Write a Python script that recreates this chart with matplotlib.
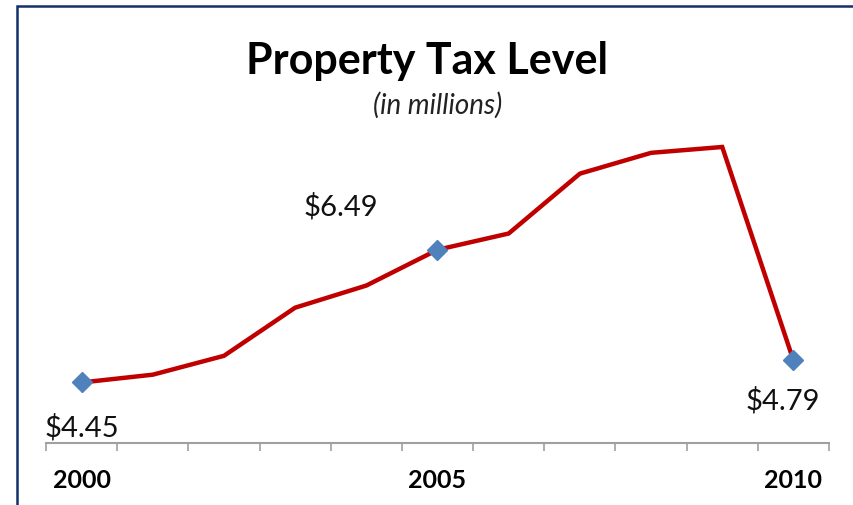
import matplotlib
matplotlib.use("Agg")
import matplotlib.pyplot as plt
from matplotlib.patches import Rectangle

# Data (millions of dollars)
years = [2000, 2001, 2002, 2003, 2004, 2005, 2006, 2007, 2008, 2009, 2010]
tax_level = [4.45, 4.57, 4.86, 5.60, 5.94, 6.49, 6.74, 7.66, 7.98, 8.07, 4.79]
labeled_idx = [0, 5, 10]
label_text = ["$4.45", "$6.49", "$4.79"]
tick_years = ["2000", "2005", "2010"]

plt.rcParams['font.family'] = ['Lato', 'DejaVu Sans']

fig = plt.figure(figsize=(8.54, 5.06), dpi=100)
W, H = 854, 506

# dark blue frame (right/bottom edges are cut off in the original)
fig.patches.append(Rectangle((17 / W, -0.1), 1.2, 1 - 7 / H + 0.1,
                             transform=fig.transFigure, fill=False,
                             edgecolor="#12306A", linewidth=1.8))

ax = fig.add_axes([46 / W, 1 - 444 / H, 783 / W, 325.3 / H])
x = list(range(len(years)))
ax.plot(x, tax_level, color="#C00000", linewidth=3.2, solid_joinstyle="miter",
        marker="D", markersize=10.5, markevery=labeled_idx,
        markerfacecolor="#4F81BD", markeredgecolor="#4F81BD", zorder=3)

ax.set_xlim(-0.5, len(years) - 0.5)
ax.set_ylim(3.52, 8.52)

for s in ["top", "right", "left"]:
    ax.spines[s].set_visible(False)
ax.spines["bottom"].set_color("#A0A0A0")
ax.spines["bottom"].set_linewidth(1.5)
ax.set_yticks([])

# category boundaries as tick marks, labels only on every fifth year
ax.set_xticks([i - 0.5 for i in range(len(years) + 1)], minor=True)
ax.tick_params(axis="x", which="minor", length=6, width=1.2, color="#A0A0A0", direction="out")
ax.set_xticks([x[i] for i in labeled_idx])
ax.set_xticklabels(tick_years, fontsize=18, fontweight="bold")
ax.tick_params(axis="x", which="major", length=0, pad=18)

# data labels
offsets = [(0, -44), (-97, 44), (-11, -39)]
for i, txt, (dx, dy) in zip(labeled_idx, label_text, offsets):
    ax.annotate(txt, (x[i], tax_level[i]), xytext=(dx, dy), textcoords="offset pixels",
                ha="center", va="center", fontsize=21, color="#111111")

fig.text(427 / W, 1 - 61 / H, "Property Tax Level", ha="center", va="center",
         fontsize=31, fontweight="bold")
fig.text(438 / W, 1 - 105 / H, "(in millions)", ha="center", va="center",
         fontsize=20, style="italic", color="#222222")

fig.savefig("out.png", dpi=100)
